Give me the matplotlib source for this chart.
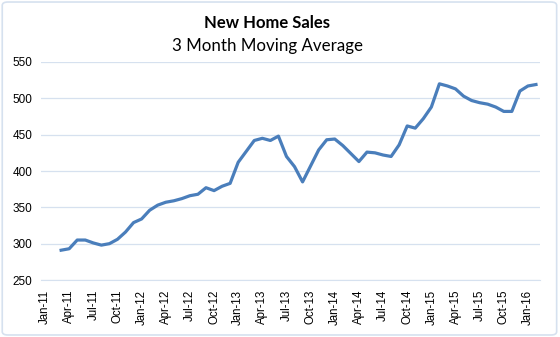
import numpy as np
import matplotlib.pyplot as plt
from matplotlib.patches import FancyBboxPatch

# monthly categories Jan-11 .. Feb-16
months = ["Jan", "Feb", "Mar", "Apr", "May", "Jun", "Jul", "Aug", "Sep", "Oct", "Nov", "Dec"]
labels = ["%s-%d" % (m, y) for y in range(11, 17) for m in months][:62]

# 3 month moving average (first two months empty)
sales = [np.nan, np.nan,
         291, 293, 305, 305, 301, 298, 300, 306, 316, 329,          # Mar-11 .. Dec-11
         334, 346, 353, 357, 359, 362, 366, 368, 377, 373, 379, 383,  # 2012
         412, 427, 442, 445, 442, 448, 420, 406, 385, 407, 429, 443,  # 2013
         444, 435, 424, 413, 426, 425, 422, 420, 436, 462, 459, 472,  # 2014
         488, 520, 517, 513, 503, 497, 494, 492, 488, 482, 482, 510,  # 2015
         517, 519]                                                  # 2016

x = np.arange(len(labels))

fig = plt.figure(figsize=(5.6, 3.37), dpi=100)
fig.patches.append(FancyBboxPatch((0.004, 0.006), 0.99, 0.988,
                                  boxstyle="round,pad=0,rounding_size=0.01",
                                  transform=fig.transFigure, fill=False,
                                  edgecolor="#d6e1ef", linewidth=1.2))
ax = fig.add_axes([41 / 560, 1 - 280 / 337, 499 / 560, 218 / 337])

ax.plot(x, sales, color="#4a7ebb", lw=2.3, solid_joinstyle="round")

ax.set_xlim(-0.5, len(labels) - 0.5)
ax.set_ylim(250, 550)
ax.set_yticks(np.arange(250, 551, 50))
ax.set_xticks(x[::3])
ax.set_xticklabels(labels[::3], rotation=90, fontsize=8.3, family="Liberation Sans")
for t in ax.get_yticklabels():
    t.set_fontsize(8.5)
    t.set_family("Liberation Sans")
ax.grid(axis="y", color="#d6e1ef", lw=0.9)
ax.set_axisbelow(True)
for s in ["top", "right", "left"]:
    ax.spines[s].set_visible(False)
ax.spines["bottom"].set_color("#d6e1ef")
ax.tick_params(axis="both", length=0, pad=6, colors="#000000")
ax.tick_params(axis="x", pad=7)

fig.text(267 / 560, 1 - 23 / 337, "New Home Sales", ha="center", va="center",
         fontsize=12, fontweight="bold", family="Lato")
fig.text(267 / 560, 1 - 46 / 337, "3 Month Moving Average", ha="center", va="center",
         fontsize=12.2, family="Lato")

fig.savefig("out.png", dpi=100)
